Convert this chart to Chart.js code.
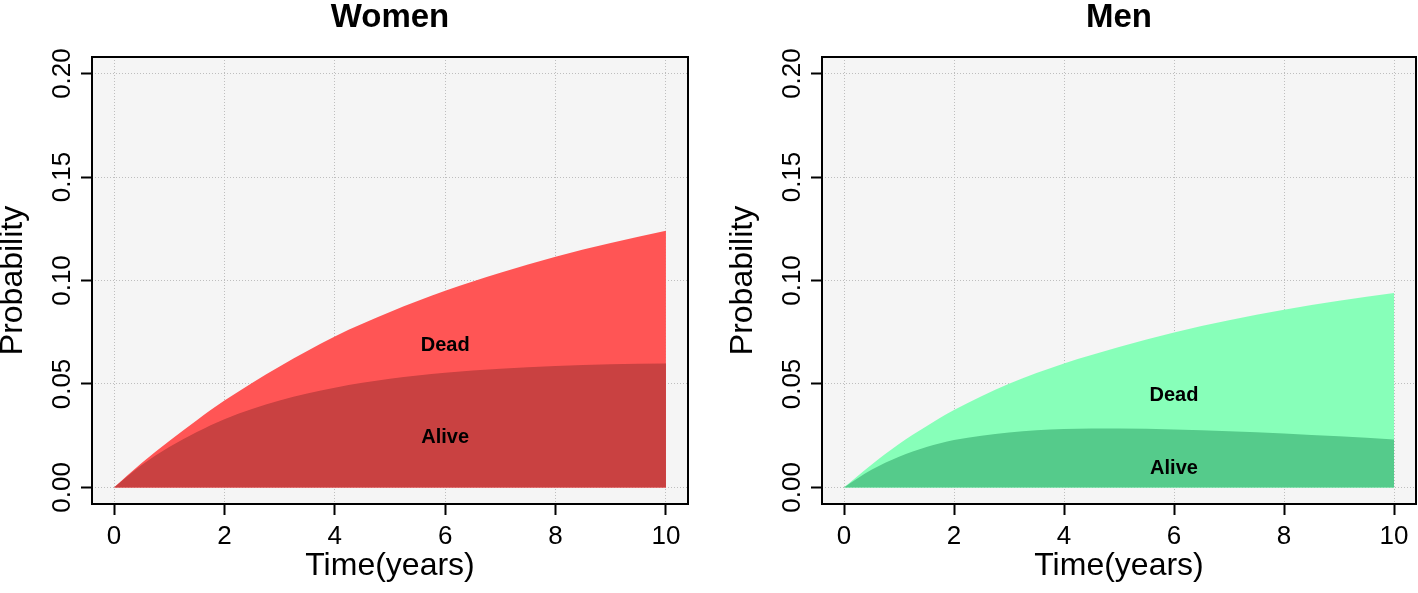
<!DOCTYPE html>
<html>
<head>
<meta charset="utf-8">
<script src="https://cdn.jsdelivr.net/npm/chart.js@4.4.1/dist/chart.umd.min.js"></script>
<style>
    html, body { margin: 0; padding: 0; background: #fff; }
    #wrap { position: relative; width: 1418px; height: 593px; }
    .panel { position: absolute; top: 0; width: 709px; height: 593px; }
</style>
</head>
<body>
<div id="wrap">
    <div class="panel" style="left:0"><canvas id="women" width="709" height="593"></canvas></div>
    <div class="panel" style="left:709px"><canvas id="men" width="709" height="593"></canvas></div>
</div>
<script>
const years = [0, 0.5, 1, 1.5, 2, 3, 4, 5, 6, 7, 8, 9, 10];
const womenTotal = [0, 0.0118, 0.0225, 0.0325, 0.042, 0.0585, 0.073, 0.0848, 0.095, 0.1037, 0.1115, 0.1181, 0.124];
const womenAlive = [0, 0.0108, 0.0195, 0.0268, 0.033, 0.042, 0.0482, 0.0525, 0.0554, 0.0574, 0.0587, 0.0595, 0.0599];
const menTotal = [0, 0.011, 0.021, 0.0296, 0.0374, 0.0501, 0.0599, 0.0679, 0.0749, 0.0808, 0.0859, 0.0902, 0.0939];
const menAlive = [0, 0.0085, 0.0148, 0.0195, 0.0229, 0.0266, 0.0283, 0.0285, 0.028, 0.0272, 0.0261, 0.0247, 0.0232];

const xTicks = [0, 2, 4, 6, 8, 10];
const yTicks = [0, 0.05, 0.10, 0.15, 0.20];
const yTickLabels = ['0.00', '0.05', '0.10', '0.15', '0.20'];

const bandLabels = ['Dead', 'Alive'];
const labelX = 6;
const womenLabelY = [0.0695, 0.025];
const menLabelY = [0.045, 0.0098];

const FONT = '"Liberation Sans", Arial, sans-serif';

const decorations = {
    id: 'decorations',
    beforeDraw(chart) {
        const { ctx, chartArea: a } = chart;
        ctx.save();
        ctx.fillStyle = '#f5f5f5';
        ctx.fillRect(a.left, a.top, a.right - a.left, a.bottom - a.top);
        ctx.restore();
    },
    afterDraw(chart, args, opts) {
        const { ctx, chartArea: a, scales: { x, y } } = chart;
        const mid = (a.left + a.right) / 2;
        ctx.save();
        ctx.strokeStyle = '#000';
        ctx.lineWidth = 2;
        ctx.strokeRect(a.left, a.top, a.right - a.left, a.bottom - a.top);

        ctx.fillStyle = '#000';
        ctx.textAlign = 'center';
        ctx.textBaseline = 'alphabetic';
        ctx.font = 'bold 33px ' + FONT;
        ctx.fillText(opts.title, mid, 27);
        ctx.font = '32px ' + FONT;
        ctx.fillText('Time(years)', mid, 575);

        // rotated y tick labels, R style
        ctx.font = '26px ' + FONT;
        yTicks.forEach((v, i) => {
            ctx.save();
            ctx.translate(a.left - 22, y.getPixelForValue(v));
            ctx.rotate(-Math.PI / 2);
            ctx.fillText(yTickLabels[i], 0, 0);
            ctx.restore();
        });

        ctx.font = '32px ' + FONT;
        ctx.save();
        ctx.translate(a.left - 70, (a.top + a.bottom) / 2);
        ctx.rotate(-Math.PI / 2);
        ctx.fillText('Probability', 0, 0);
        ctx.restore();

        ctx.font = 'bold 20px ' + FONT;
        opts.labelY.forEach((v, i) => {
            ctx.fillText(bandLabels[i], x.getPixelForValue(labelX), y.getPixelForValue(v) + 7);
        });
        ctx.restore();
    }
};

const toPoints = (vals) => years.map((t, i) => ({ x: t, y: vals[i] }));

const makePanel = (canvasId, title, alive, total, aliveColor, deadColor, labelY, padLeft, padRight) => {
    const grid = {
        color: '#bebebe',
        lineWidth: 1,
        tickColor: '#000',
        tickWidth: 2,
        tickLength: 11,
        tickBorderDash: []
    };
    // in v4 the grid line dash comes from border.dash
    const border = { display: false, dash: [1, 2] };
    return new Chart(document.getElementById(canvasId), {
        type: 'line',
        data: {
            datasets: [
                {
                    label: 'Alive',
                    data: toPoints(alive),
                    backgroundColor: aliveColor,
                    borderColor: 'transparent',
                    borderWidth: 0,
                    pointRadius: 0,
                    fill: 'origin',
                    cubicInterpolationMode: 'monotone'
                },
                {
                    label: 'Dead',
                    data: toPoints(total),
                    backgroundColor: deadColor,
                    borderColor: 'transparent',
                    borderWidth: 0,
                    pointRadius: 0,
                    fill: 'origin',
                    cubicInterpolationMode: 'monotone'
                }
            ]
        },
        options: {
            responsive: false,
            animation: false,
            layout: { padding: { left: padLeft, right: padRight, top: 57, bottom: 0 } },
            scales: {
                x: {
                    type: 'linear',
                    min: -0.4,
                    max: 10.4,
                    afterBuildTicks: s => { s.ticks = xTicks.map(v => ({ value: v })); },
                    afterFit: s => { s.height = 89; },
                    grid: grid,
                    border: border,
                    ticks: { color: '#000', font: { family: FONT, size: 26 }, padding: 6, maxRotation: 0 }
                },
                y: {
                    type: 'linear',
                    min: -0.008,
                    max: 0.208,
                    afterBuildTicks: s => { s.ticks = yTicks.map(v => ({ value: v })); },
                    afterFit: s => { s.width = 11; },
                    grid: grid,
                    border: border,
                    ticks: { display: false }
                }
            },
            plugins: {
                legend: { display: false },
                tooltip: { enabled: false },
                decorations: { title: title, labelY: labelY }
            }
        },
        plugins: [decorations]
    });
};

makePanel('women', 'Women', womenAlive, womenTotal, '#c94141', '#ff5555', womenLabelY, 81, 21);
makePanel('men', 'Men', menAlive, menTotal, '#55cb8b', '#87ffb9', menLabelY, 102, 2);
</script>
</body>
</html>
